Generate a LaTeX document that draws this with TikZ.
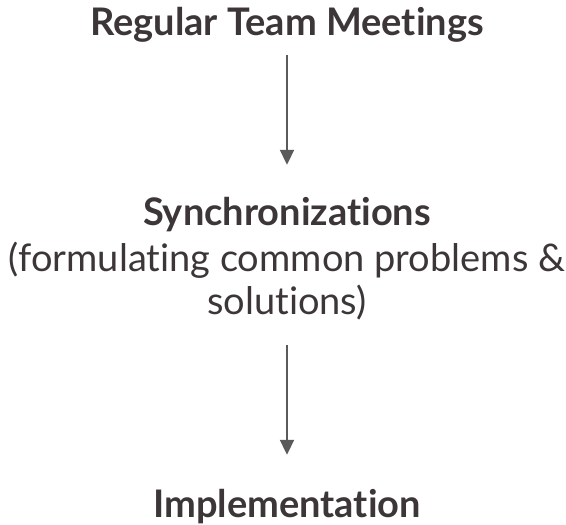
\documentclass[tikz,border=0pt]{standalone}
\usepackage{fontspec}
\setmainfont{Lato}[Ligatures=NoCommon]
\usetikzlibrary{arrows.meta}
\definecolor{inktext}{HTML}{3D3639}
\definecolor{inkarrow}{HTML}{5A5A5A}
\begin{document}
\begin{tikzpicture}[x=1pt, y=-1pt,
  line/.style = {inner sep=0pt, text height=28pt, text depth=8.5pt, anchor=base,
    text=inktext, font=\fontsize{38}{42}\selectfont},
  head/.style = {line, font=\fontsize{38}{42}\selectfont\bfseries},
  flow/.style = {draw=inkarrow, line width=2pt, -{Triangle[width=14pt,length=15pt]}}]
  \useasboundingbox (0,0) rectangle (566,525);
  \node[head] (meet) at (287,35) {Regular Team Meetings};
  \node[head] (sync) at (287,225) {Synchronizations};
  \node[line] (syncA) at (287,271) {(formulating common problems \&};
  \node[line] (syncB) at (287,314) {solutions)};
  \node[head] (impl) at (287,517) {Implementation};
  \draw[flow, shorten <=11.5pt, shorten >=32pt] (meet.south) -- (sync.north);
  \draw[flow, shorten <=22.5pt, shorten >=34pt] (syncB.south) -- (impl.north);
\end{tikzpicture}
\end{document}
